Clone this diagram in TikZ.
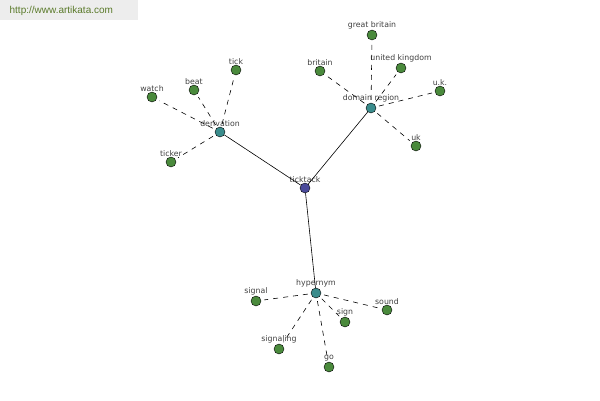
\documentclass[tikz,border=0pt]{standalone}
\usepackage{fontspec}
\setmainfont{DejaVu Sans}
\newfontfamily\markfont{Liberation Sans}
\usetikzlibrary{positioning}

\definecolor{leafgreen}{HTML}{4A8A3C}
\definecolor{hubteal}{HTML}{3A8C8C}
\definecolor{rootblue}{HTML}{4A4A9A}
\definecolor{wordgray}{HTML}{404040}
\definecolor{markgreen}{HTML}{5A7A2A}

\begin{document}
\begin{tikzpicture}[
    x = 1pt, y = -1pt, % pixel grid
    semithick % line style
    ]

    \tikzset{word/.style={
    circle,
    draw = black,
    thin,
    fill = leafgreen,
    inner sep = 0pt,
    minimum size = 10pt,
    label distance = 2pt,
    label = {[text=wordgray, font=\fontsize{7.8}{8}\selectfont, inner sep=0pt]above:#1}
    },
    hub/.style={word=#1, fill = hubteal},
    root/.style={word=#1, fill = rootblue},
    rel/.style={line width=0.6pt, dash pattern=on 5pt off 5pt, shorten <=3pt, shorten >=3pt},
    link/.style={line width=0.6pt}
    }

    \useasboundingbox (0,0) rectangle (600,400);
    \fill[black!7] (0,0) rectangle (138,20);
    \node[text=markgreen, font=\markfont\fontsize{10}{11}\selectfont, anchor=west] (mark) at (6,11) {http://www.artikata.com};

    \node[root=ticktack] (ticktack) at (305,188) {};
    \node[hub=derivation] (derivation) at (220,132) {};
    \node[hub=domain region] (domain) at (371,108) {};
    \node[hub=hypernym] (hypernym) at (316,293) {};

    \node[word=tick] (tick) at (236,70) {};
    \node[word=beat] (beat) at (194,90) {};
    \node[word=watch] (watch) at (152,97) {};
    \node[word=ticker] (ticker) at (171,162) {};

    \node[word=great britain] (greatbritain) at (372,35) {};
    \node[word=britain] (britain) at (320,71) {};
    \node[word=united kingdom] (unitedkingdom) at (401,68) {};
    \node[word=u.k.] (uk2) at (440,91) {};
    \node[word=uk] (uk) at (416,146) {};

    \node[word=signal] (signal) at (256,301) {};
    \node[word=sign] (sign) at (345,322) {};
    \node[word=sound] (sound) at (387,310) {};
    \node[word=signaling] (signaling) at (279,349) {};
    \node[word=go] (go) at (329,367) {};

    \path[link] (ticktack) edge (derivation);
    \path[link] (ticktack) edge (domain);
    \path[link] (ticktack) edge (hypernym);

    \foreach \w in {tick,beat,watch,ticker}
        \path[rel] (derivation) edge (\w);
    \foreach \w in {greatbritain,britain,unitedkingdom,uk2,uk}
        \path[rel] (domain) edge (\w);
    \foreach \w in {signal,sign,sound,signaling,go}
        \path[rel] (hypernym) edge (\w);
\end{tikzpicture}
\end{document}
